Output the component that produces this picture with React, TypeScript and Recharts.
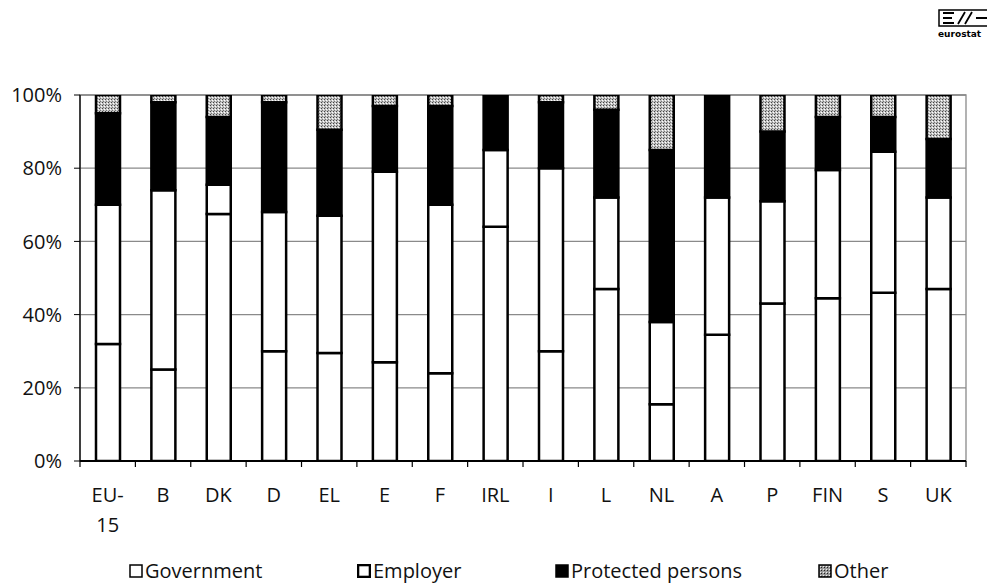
import React from "react";
import {
  BarChart,
  Bar,
  XAxis,
  YAxis,
  CartesianGrid,
  ReferenceArea,
  Legend,
} from "recharts";

// Financing of social protection benefits by source, % of total
const countries = ["EU-15", "B", "DK", "D", "EL", "E", "F", "IRL", "I", "L", "NL", "A", "P", "FIN", "S", "UK"];
const government = [32, 25, 67.5, 30, 29.5, 27, 24, 64, 30, 47, 15.5, 34.5, 43, 44.5, 46, 47];
const employer = [38, 49, 8, 38, 37.5, 52, 46, 21, 50, 25, 22.5, 37.5, 28, 35, 38.5, 25];
const protectedPersons = [25, 24, 18.5, 30, 23.5, 18, 27, 15, 18, 24, 47, 28, 19, 14.5, 9.5, 16];
const other = [5, 2, 6, 2, 9.5, 3, 3, 0, 2, 4, 15, 0, 10, 6, 6, 12];
const yTicks = [0, 20, 40, 60, 80, 100];

const data = countries.map((c, i) => ({
  country: c,
  government: government[i],
  employer: employer[i],
  protectedPersons: protectedPersons[i],
  other: other[i],
}));

const FONT = "'Open Sans', 'DejaVu Sans', sans-serif";
const HALF_BAND = 27.7;

const CountryTick = (props: any) => {
  const { x, y, payload, index } = props;
  const label = String(payload.value);
  const parts = label.includes("-") ? [label.split("-")[0] + "-", label.split("-")[1]] : [label];
  return (
    <g>
      <line x1={x + HALF_BAND} x2={x + HALF_BAND} y1={y} y2={y + 6} stroke="#000" strokeWidth={1.2} />
      {index === 0 && <line x1={x - HALF_BAND} x2={x - HALF_BAND} y1={y} y2={y + 6} stroke="#000" strokeWidth={1.2} />}
      {parts.map((p, k) => (
        <text key={k} x={x} y={y + 41 + k * 30} textAnchor="middle" fontFamily={FONT} fontSize={20} fill="#111">
          {p}
        </text>
      ))}
    </g>
  );
};

const legendItems = [
  { label: "Government", left: 129, fill: "#fff", sw: 1.5 },
  { label: "Employer", left: 357, fill: "#fff", sw: 2.6 },
  { label: "Protected persons", left: 555, fill: "#000", sw: 1.5 },
  { label: "Other", left: 818, fill: "url(#lgOther)", sw: 1.5 },
];

const LegendContent = () => (
  <div style={{ position: "relative", height: 24, fontFamily: FONT, fontSize: 20, color: "#111" }}>
    {legendItems.map((it) => (
      <div
        key={it.label}
        style={{ position: "absolute", left: it.left, top: 0, height: 24, display: "flex", alignItems: "center", whiteSpace: "nowrap" }}
      >
        <svg width={14} height={14} style={{ marginRight: 2, flexShrink: 0 }}>
          <defs>
            <pattern id="lgOther" width={3} height={3} patternUnits="userSpaceOnUse">
              <rect width={3} height={3} fill="#999" />
              <rect width={1} height={1} fill="#222" />
              <rect x={2} y={2} width={1} height={1} fill="#eee" />
            </pattern>
          </defs>
          <rect x={1} y={1} width={12} height={12} fill={it.fill} stroke="#000" strokeWidth={it.sw} />
        </svg>
        <span style={{ lineHeight: "24px" }}>{it.label}</span>
      </div>
    ))}
  </div>
);

const Logo = () => (
  <svg width={49} height={36} style={{ position: "absolute", left: 938, top: 9 }}>
    <rect x={1} y={1} width={52} height={16} fill="none" stroke="#000" strokeWidth={1.5} />
    <path d="M5 4 H16 M5 9 H14 M5 14 H16 M20 15 L27 3 M27 15 L34 3 M38 9 H49" stroke="#000" strokeWidth={1.8} fill="none" />
    <text x={0} y={28} fontFamily="'DejaVu Sans', sans-serif" fontWeight={700} fontSize={9} fill="#000">
      eurostat
    </text>
  </svg>
);

export default function App() {
  return (
    <div style={{ position: "absolute", left: 0, top: 0, width: 987, height: 585, background: "#fff" }}>
      <Logo />
      <BarChart
        width={987}
        height={585}
        data={data}
        margin={{ top: 95, right: 21, left: 8, bottom: 40 }}
        barSize={24}
      >
        <defs>
          <pattern id="otherDots" width={3} height={3} patternUnits="userSpaceOnUse">
            <rect width={3} height={3} fill="#c4c4c4" />
            <rect width={1} height={1} fill="#444" />
            <rect x={2} y={1} width={1} height={1} fill="#fff" />
            <rect x={1} y={2} width={1} height={1} fill="#777" />
          </pattern>
        </defs>
        <CartesianGrid vertical={false} stroke="#8a8a8a" strokeWidth={1.3} />
        <ReferenceArea y1={0} y2={100} fill="none" stroke="#8a8a8a" strokeWidth={1.3} ifOverflow="visible" />
        <XAxis
          dataKey="country"
          interval={0}
          tickLine={false}
          tickSize={0}
          tickMargin={0}
          axisLine={{ stroke: "#000", strokeWidth: 2 }}
          tick={<CountryTick />}
          height={60}
        />
        <YAxis
          domain={[0, 100]}
          ticks={yTicks}
          allowDataOverflow
          width={72}
          tickSize={6}
          tickMargin={12}
          tickFormatter={(v) => `${v}%`}
          axisLine={{ stroke: "#000", strokeWidth: 1.3 }}
          tickLine={{ stroke: "#000" }}
          tick={{ fontFamily: FONT, fontSize: 20, fill: "#111" }}
        />
        <Bar dataKey="government" name="Government" stackId="s" fill="#fff" stroke="#000" strokeWidth={2.5} isAnimationActive={false} />
        <Bar dataKey="employer" name="Employer" stackId="s" fill="#fff" stroke="#000" strokeWidth={2.5} isAnimationActive={false} />
        <Bar dataKey="protectedPersons" name="Protected persons" stackId="s" fill="#000" stroke="#000" strokeWidth={2.5} isAnimationActive={false} />
        <Bar dataKey="other" name="Other" stackId="s" fill="url(#otherDots)" stroke="#000" strokeWidth={2.5} isAnimationActive={false} />
        <Legend
          content={<LegendContent />}
          wrapperStyle={{ position: "absolute", left: 0, top: 559, width: 987, height: 24 }}
        />
      </BarChart>
    </div>
  );
}
